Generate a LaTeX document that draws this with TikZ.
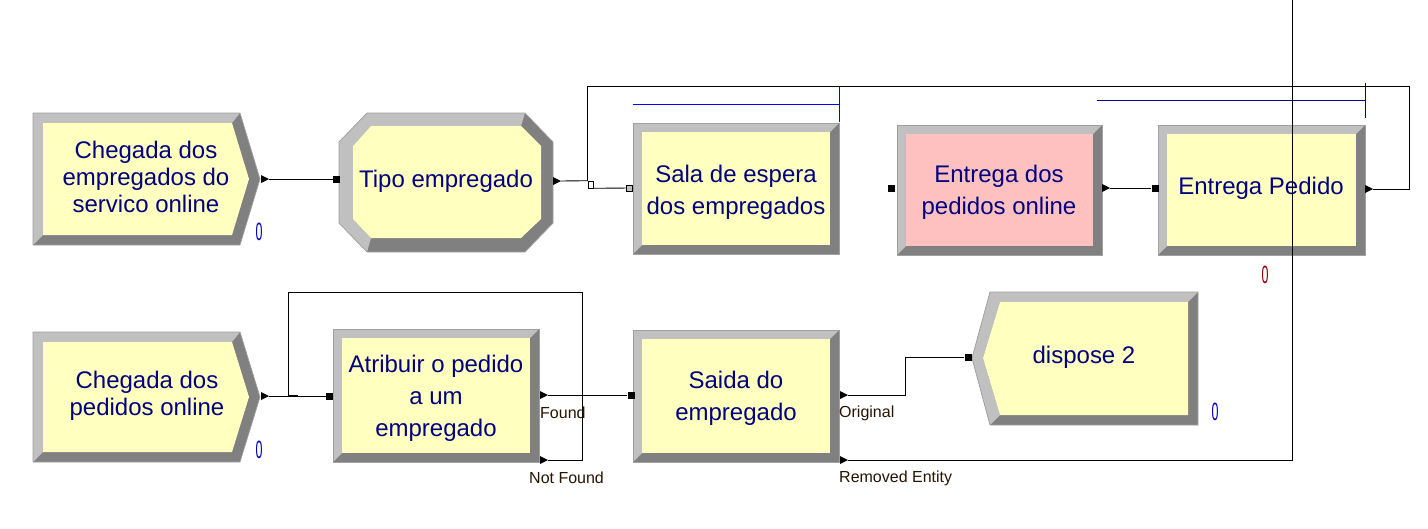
\documentclass[tikz,border=0pt]{standalone}
\usepackage{fontspec}
\setmainfont{Liberation Sans}
\usepackage{graphicx}
\usetikzlibrary{arrows.meta,positioning}

\definecolor{modfill}{RGB}{255,255,192}
\definecolor{modpink}{RGB}{255,192,192}
\definecolor{bevlight}{RGB}{192,192,192}
\definecolor{bevdark}{RGB}{128,128,128}
\definecolor{bevedge}{RGB}{160,160,160}
\definecolor{modtext}{RGB}{0,0,128}
\definecolor{porttext}{RGB}{40,20,0}
\definecolor{cntblue}{RGB}{0,0,190}
\definecolor{cntred}{RGB}{140,0,0}
\definecolor{qblue}{RGB}{0,0,255}

% beveled process box: x1 y1 x2 y2 fill
\newcommand\modbox[5]{%
  \fill[bevdark] (#1,#2) rectangle (#3,#4);
  \fill[bevlight] (#1,#4) -- (#1,#2) -- (#3,#2) -- ({#3-9},{#2+9})
    -- ({#1+9},{#2+9}) -- ({#1+9},{#4-9}) -- cycle;
  \fill[#5] ({#1+9},{#2+9}) rectangle ({#3-9},{#4-9});
  \draw[bevedge, line width=0.7pt] (#1,#2) rectangle (#3,#4);}
% create module (points right): y1 y2
\newcommand\createmod[2]{%
  \fill[bevdark] (33,#1) -- (240,#1) -- (260,{(#1+#2)/2}) -- (240,#2) -- (33,#2) -- cycle;
  \fill[bevlight] (33,#2) -- (33,#1) -- (240,#1) -- (232,{#1+10})
    -- (43,{#1+10}) -- (43,{#2-10}) -- cycle;
  \fill[modfill] (43,{#1+10}) -- (232,{#1+10}) -- (249,{(#1+#2)/2})
    -- (232,{#2-10}) -- (43,{#2-10}) -- cycle;
  \draw[bevedge, line width=0.7pt] (33,#1) -- (240,#1) -- (260,{(#1+#2)/2})
    -- (240,#2) -- (33,#2) -- cycle;}
% exit point, tip at the coordinate
\newcommand\exitmark[1]{\fill (#1) -- ++(-8,-4) -- ++(0,8) -- cycle;}

\begin{document}
\begin{tikzpicture}[x=1pt, y=-1pt,
  font=\fontsize{24}{32}\selectfont,
  txt/.style={text=modtext, align=center, inner sep=0pt},
  tight/.style={txt, font=\fontsize{24}{27}\selectfont},
  entry/.style={rectangle, fill=black, minimum size=7pt, inner sep=0pt},
  junc/.style={rectangle, draw=black, fill=white, line width=0.6pt,
               minimum width=5pt, minimum height=7pt, inner sep=0pt},
  port/.style={font=\fontsize{16}{16}\selectfont, text=porttext, anchor=west, inner sep=0pt},
  cnt/.style={font=\fontsize{25}{25}\selectfont, inner sep=0pt},
  con/.style={line width=0.9pt},
  queue/.style={line width=0.9pt},
]
\useasboundingbox (0,0) rectangle (1428,528);
\fill[white] (0,0) rectangle (1428,528);

% top row
\createmod{113}{245}
\node[tight] (chg1) at (146,177) {Chegada dos\\empregados do\\servico online};
\node[cnt, text=cntblue] (c1) at (259,232) {\scalebox{0.5}[1]{0}};

\fill[bevdark] (367,113) -- (525,113) -- (553,142) -- (553,223) -- (525,252)
  -- (367,252) -- (339,223) -- (339,142) -- cycle;
\fill[bevlight] (371,238) -- (367,252) -- (339,223) -- (339,142) -- (367,113)
  -- (525,113) -- (521,126) -- (371,126) -- (353,146) -- (353,219) -- cycle;
\fill[modfill] (371,126) -- (521,126) -- (541,146) -- (541,219) -- (521,238)
  -- (371,238) -- (353,219) -- (353,146) -- cycle;
\draw[bevedge, line width=0.7pt] (367,113) -- (525,113) -- (553,142) -- (553,223)
  -- (525,252) -- (367,252) -- (339,223) -- (339,142) -- cycle;
\node[txt] (tipo) at (446,181) {Tipo empregado};

\modbox{633}{123}{839}{254}{modfill}
\node[txt] (sala) at (736,192) {Sala de espera\\dos empregados};
\modbox{897}{125}{1102}{255}{modpink}
\node[txt] (entdos) at (999,192) {Entrega dos\\pedidos online};
\modbox{1158}{125}{1365}{255}{modfill}
\node[txt] (entped) at (1261,188) {Entrega Pedido};
\node[cnt, text=cntred] (c2) at (1265,275) {\scalebox{0.5}[1]{0}};

% queues
\draw[queue, qblue] (633,104) -- (839,104);
\draw[queue, qblue] (839,86) -- (839,122);
\draw[queue, modtext] (1097,100) -- (1365,100);
\draw[queue, modtext] (1365,83) -- (1365,118);

% bottom row
\createmod{332}{462}
\node[tight] (chg2) at (147,396) {Chegada dos\\pedidos online};
\node[cnt, text=cntblue] (c3) at (259,450) {\scalebox{0.5}[1]{0}};
\modbox{333}{329}{539}{462}{modfill}
\node[txt] (atr) at (436,398) {Atribuir o pedido\\a um\\empregado};
\modbox{633}{330}{839}{462}{modfill}
\node[txt] (saida) at (736,398) {Saida do\\empregado};

\fill[bevdark] (990,292) -- (1198,292) -- (1198,425) -- (990,425) -- (972,358) -- cycle;
\fill[bevlight] (990,425) -- (972,358) -- (990,292) -- (1198,292) -- (1188,302)
  -- (1000,302) -- (983,358) -- (1000,415) -- cycle;
\fill[modfill] (1000,302) -- (1188,302) -- (1188,415) -- (1000,415) -- (983,358) -- cycle;
\draw[bevedge, line width=0.7pt] (990,292) -- (1198,292) -- (1198,425) -- (990,425)
  -- (972,358) -- cycle;
\node[txt] (disp) at (1084,357) {dispose 2};
\node[cnt, text=cntblue] (c4) at (1215,412) {\scalebox{0.5}[1]{0}};

% entry points
\node[entry] (tipo-in) at (336.5,179) {};
\node[entry, fill=bevlight, draw=black, line width=0.6pt, minimum size=6pt] (sala-in) at (629,188) {};
\node[entry] (entdos-in) at (891.5,188) {};
\node[entry] (entped-in) at (1155,188) {};
\node[entry] (atr-in) at (329.5,396) {};
\node[entry] (saida-in) at (631,395) {};
\node[entry] (disp-in) at (968,357) {};
\node[junc] (jn) at (590.5,184.5) {};

% exit points
\coordinate (chg1-out) at (269,179);
\coordinate (tipo-out) at (561,181);
\coordinate (entdos-out) at (1110,188);
\coordinate (entped-out) at (1373,189);
\coordinate (chg2-out) at (269,396);
\coordinate (atr-found) at (548,395);
\coordinate (atr-nf) at (548,460);
\coordinate (saida-orig) at (848,395);
\coordinate (saida-rem) at (848,460);
\foreach \p in {chg1-out,tipo-out,entdos-out,entped-out,chg2-out,
                atr-found,atr-nf,saida-orig,saida-rem}
  {\exitmark{\p}}

% connections
\draw[con] (chg1-out) -- (tipo-in);
\draw[con] (tipo-out) -- (jn.north west);
\draw[con] (jn.south east) -- (sala-in);
\draw[con] (entdos-out) -- (entped-in);
\draw[con] (entped-out) -| (1409,86) -| (jn.north west);
\draw[con] (chg2-out) -- (atr-in);
\draw[con] (atr-nf) -| (582,292) -| (288,396);
\draw[line width=2pt] (288,396) -- (298,396);
\draw[con] (atr-found) -- (saida-in);
\draw[con] (saida-orig) -- (905,395) |- (disp-in);
\draw[con] (saida-rem) -| (1292,0);

% port labels
\node[port] (l-found) at (540,413) {Found};
\node[port] (l-nf) at (529,478) {Not Found};
\node[port] (l-orig) at (839,413) {Original};
\node[port] (l-rem) at (839,478) {Removed Entity};
\end{tikzpicture}
\end{document}
